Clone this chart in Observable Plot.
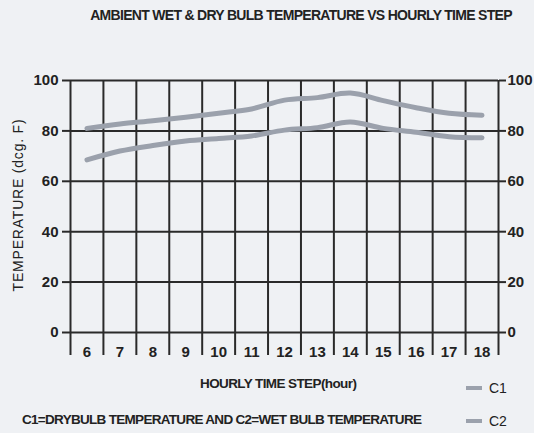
<!DOCTYPE html>
<html>
<head>
<meta charset="utf-8">
<script src="https://cdn.jsdelivr.net/npm/d3@7"></script>
<script src="https://cdn.jsdelivr.net/npm/@observablehq/plot@0.6"></script>
<style>
  html, body { margin: 0; padding: 0; background: #eff1f4; }
  #wrap { position: relative; width: 534px; height: 433px; background: #eff1f4; overflow: hidden;
          font-family: "Liberation Sans Narrow", "Arial Narrow", "Liberation Sans", sans-serif; color: #222; }
  #title { position: absolute; left: 0; width: 534px; top: 7px; text-align: center; padding-left: 68px; box-sizing: border-box;
           font-size: 14px; font-weight: bold; letter-spacing: -0.7px; }
  #chart { position: absolute; left: 0; top: 34px; }
  #ytitle { position: absolute; left: 18px; top: 205px; transform: translate(-50%, -50%) rotate(-90deg);
            font-family: "Liberation Sans", sans-serif; font-size: 14px; letter-spacing: 0.8px; white-space: nowrap; color: #222; }
  #xtitle { position: absolute; left: 200px; top: 376px; font-size: 13.5px; font-weight: bold; letter-spacing: -0.6px; }
  #caption { position: absolute; left: 22px; top: 412px; font-size: 13.5px; font-weight: bold; letter-spacing: -0.7px; }
  .leg { position: absolute; left: 466px; font-size: 14px; display: flex; align-items: center; }
  .leg span.sw { display: inline-block; width: 16px; height: 4px; background: #9ba1ac; margin-right: 7px; }
</style>
</head>
<body>
<div id="wrap">
  <div id="title"></div>
  <div id="chart"></div>
  <div id="ytitle"></div>
  <div id="xtitle"></div>
  <div id="caption"></div>
  <div class="leg" id="leg1" style="top:380px"></div>
  <div class="leg" id="leg2" style="top:413px"></div>
</div>
<script>
const titleText = "AMBIENT WET & DRY BULB TEMPERATURE VS HOURLY TIME STEP";
const yTitle = "TEMPERATURE (dcg. F)";
const xTitle = "HOURLY TIME STEP(hour)";
const captionText = "C1=DRYBULB TEMPERATURE AND C2=WET BULB TEMPERATURE";
const seriesNames = ["C1", "C2"];

const hours = [6, 7, 8, 9, 10, 11, 12, 13, 14, 15, 16, 17, 18];
const c1 = [81, 82.7, 84, 85.4, 87, 88.7, 92.2, 93.2, 95, 92, 89.2, 87, 86.2];
const c2 = [68.5, 72, 74.2, 76, 77, 78, 80.3, 81.3, 83.5, 81, 79.5, 77.7, 77.3];
const yTicks = [0, 20, 40, 60, 80, 100];

const lineColor = "#9ba1ac";

document.getElementById("title").textContent = titleText;
document.getElementById("ytitle").textContent = yTitle;
document.getElementById("xtitle").textContent = xTitle;
document.getElementById("caption").textContent = captionText;
document.getElementById("leg1").innerHTML = '<span class="sw"></span>' + seriesNames[0];
document.getElementById("leg2").innerHTML = '<span class="sw"></span>' + seriesNames[1];

const data = [];
hours.forEach((h, i) => data.push({hour: h, temp: c1[i], series: seriesNames[0]}));
hours.forEach((h, i) => data.push({hour: h, temp: c2[i], series: seriesNames[1]}));

const bounds = d3.range(hours[0] - 0.5, hours[hours.length - 1] + 1, 1);
const font = "'Liberation Sans Narrow', 'Arial Narrow', 'Liberation Sans', sans-serif";

const plot = Plot.plot({
  width: 534,
  height: 330,
  marginTop: 46,
  marginBottom: 32,
  marginLeft: 70,
  marginRight: 36,
  style: {background: "transparent", fontFamily: font, fontSize: "14px", color: "#222"},
  x: {domain: [hours[0] - 0.5, hours[hours.length - 1] + 0.5]},
  y: {domain: [0, 100]},
  marks: [
    Plot.ruleY(yTicks, {stroke: "#2a2a2a", strokeWidth: 2}),
    Plot.ruleX(bounds, {y1: 0, y2: 100, stroke: "#2a2a2a", strokeWidth: 2}),
    Plot.axisX(bounds, {tickSize: 23, tickFormat: () => "", stroke: "#2a2a2a", strokeWidth: 2, label: null}),
    Plot.axisX(hours, {tickSize: 0, tickPadding: 14, fontSize: 15, fontWeight: "bold", label: null}),
    Plot.axisY(yTicks, {anchor: "left", tickSize: 8, tickPadding: 4, fontSize: 15, fontWeight: "bold", stroke: "#2a2a2a", strokeWidth: 2, label: null}),
    Plot.axisY(yTicks, {anchor: "right", tickSize: 7, tickPadding: 2, fontSize: 15, fontWeight: "bold", stroke: "#2a2a2a", strokeWidth: 2, label: null}),
    Plot.line(data, {x: "hour", y: "temp", z: "series", stroke: lineColor, strokeWidth: 5, curve: "catmull-rom", strokeLinecap: "round"})
  ]
});
document.getElementById("chart").appendChild(plot);
</script>
</body>
</html>
